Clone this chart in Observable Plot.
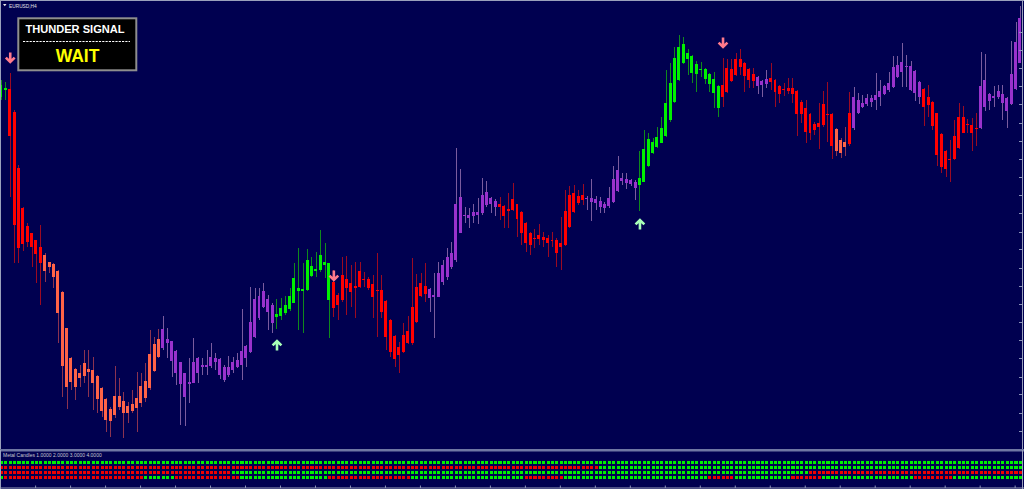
<!DOCTYPE html>
<html><head><meta charset="utf-8">
<script src="https://cdn.jsdelivr.net/npm/d3@7"></script>
<script src="https://cdn.jsdelivr.net/npm/@observablehq/plot@0.6"></script>
<style>
html,body{margin:0;padding:0;background:#000050;}
#wrap{position:relative;width:1024px;height:489px;overflow:hidden;background:#000050;}
#main{position:absolute;left:0;top:0;width:1024px;height:450px;}
#sub{position:absolute;left:0;top:450px;width:1024px;height:39px;}
svg{display:block;}
</style></head><body>
<div id="wrap"><div id="main"></div><div id="sub"></div></div>
<script>
// ---- EURUSD H4 candles (price levels) ----
const high = [
1.0920,1.0918,1.0927,1.0890,1.0835,1.0793,1.0777,1.0767,1.0760,1.0775,
1.0747,1.0738,1.0737,1.0730,1.0709,1.0672,1.0643,1.0632,1.0635,1.0650,
1.0650,1.0643,1.0625,1.0613,1.0602,1.0593,1.0634,1.0622,1.0608,1.0598,
1.0610,1.0628,1.0627,1.0637,1.0670,1.0663,1.0671,1.0684,1.0672,1.0659,
1.0650,1.0638,1.0627,1.0642,1.0662,1.0643,1.0642,1.0650,1.0657,1.0647,
1.0642,1.0635,1.0644,1.0643,1.0647,1.0691,1.0655,1.0713,1.0712,1.0712,
1.0717,1.0705,1.0697,1.0701,1.0702,1.0704,1.0712,1.0737,1.0752,1.0737,
1.0751,1.0743,1.0748,1.0770,1.0757,1.0737,1.0730,1.0707,1.0743,1.0744,
1.0735,1.0738,1.0738,1.0728,1.0723,1.0725,1.0747,1.0725,1.0700,1.0681,
1.0665,1.0658,1.0677,1.0684,1.0742,1.0726,1.0727,1.0737,1.0712,1.0727,
1.0738,1.0740,1.0752,1.0758,1.0852,1.0831,1.0793,1.0792,1.0796,1.0802,
1.0822,1.0819,1.0803,1.0801,1.0803,1.0795,1.0807,1.0817,1.0796,1.0789,
1.0778,1.0768,1.0771,1.0776,1.0768,1.0765,1.0768,1.0762,1.0783,1.0810,
1.0814,1.0815,1.0810,1.0816,1.0804,1.0821,1.0804,1.0803,1.0798,1.0813,
1.0834,1.0844,1.0827,1.0827,1.0821,1.0820,1.0849,1.0870,1.0867,1.0862,
1.0873,1.0883,1.0930,1.0937,1.0953,1.0965,1.0963,1.0951,1.0945,1.0939,
1.0938,1.0932,1.0927,1.0928,1.0915,1.0942,1.0941,1.0941,1.0947,1.0951,
1.0938,1.0932,1.0932,1.0924,1.0920,1.0930,1.0937,1.0921,1.0915,1.0917,
1.0922,1.0922,1.0910,1.0900,1.0900,1.0887,1.0878,1.0897,1.0909,1.0918,
1.0887,1.0872,1.0862,1.0873,1.0908,1.0913,1.0907,1.0905,1.0906,1.0905,
1.0927,1.0920,1.0915,1.0928,1.0944,1.0944,1.0957,1.0945,1.0939,1.0930,
1.0919,1.0912,1.0915,1.0899,1.0887,1.0867,1.0850,1.0860,1.0880,1.0897,
1.0894,1.0881,1.0882,1.0887,1.0948,1.0946,1.0907,1.0914,1.0915,1.0915,
1.0903,1.0959,1.0978,1.0994];
const low = [
1.0900,1.0900,1.0803,1.0737,1.0737,1.0749,1.0753,1.0733,1.0717,1.0695,
1.0718,1.0727,1.0712,1.0657,1.0603,1.0591,1.0610,1.0600,1.0613,1.0617,
1.0603,1.0590,1.0587,1.0583,1.0568,1.0563,1.0582,1.0590,1.0562,1.0577,
1.0587,1.0568,1.0593,1.0598,1.0610,1.0628,1.0642,1.0650,1.0642,1.0623,
1.0615,1.0575,1.0574,1.0597,1.0617,1.0617,1.0625,1.0625,1.0632,1.0630,
1.0621,1.0618,1.0623,1.0627,1.0632,1.0620,1.0633,1.0647,1.0662,1.0680,
1.0692,1.0670,1.0667,1.0671,1.0680,1.0685,1.0689,1.0697,1.0670,1.0667,
1.0709,1.0723,1.0723,1.0728,1.0722,1.0662,1.0683,1.0680,1.0698,1.0685,
1.0693,1.0682,1.0712,1.0713,1.0710,1.0682,1.0663,1.0682,1.0650,1.0643,
1.0633,1.0627,1.0647,1.0656,1.0655,1.0677,1.0703,1.0698,1.0688,1.0662,
1.0703,1.0715,1.0720,1.0731,1.0738,1.0767,1.0777,1.0772,1.0777,1.0776,
1.0785,1.0793,1.0787,1.0784,1.0780,1.0772,1.0772,1.0789,1.0763,1.0755,
1.0748,1.0745,1.0752,1.0755,1.0753,1.0743,1.0753,1.0733,1.0730,1.0754,
1.0772,1.0787,1.0795,1.0795,1.0790,1.0779,1.0790,1.0787,1.0787,1.0792,
1.0797,1.0808,1.0815,1.0811,1.0814,1.0800,1.0789,1.0818,1.0833,1.0846,
1.0852,1.0857,1.0863,1.0878,1.0897,1.0919,1.0936,1.0925,1.0917,1.0908,
1.0923,1.0916,1.0908,1.0892,1.0883,1.0893,1.0907,1.0918,1.0924,1.0925,
1.0908,1.0912,1.0912,1.0906,1.0903,1.0912,1.0910,1.0893,1.0897,1.0904,
1.0906,1.0897,1.0864,1.0877,1.0857,1.0860,1.0865,1.0851,1.0873,1.0858,
1.0841,1.0844,1.0842,1.0844,1.0854,1.0870,1.0886,1.0892,1.0894,1.0893,
1.0890,1.0894,1.0905,1.0908,1.0912,1.0922,1.0913,1.0913,1.0909,1.0899,
1.0896,1.0874,1.0883,1.0870,1.0834,1.0827,1.0823,1.0818,1.0840,1.0851,
1.0867,1.0867,1.0849,1.0854,1.0871,1.0889,1.0890,1.0893,1.0901,1.0880,
1.0872,1.0895,1.0910,1.0937];
// upper and lower edge of each candle body
const bodyHigh = [
1.0915,1.0912,1.0911,1.0888,1.0832,1.0792,1.0774,1.0767,1.0760,1.0753,
1.0745,1.0738,1.0736,1.0729,1.0708,1.0672,1.0642,1.0631,1.0627,1.0637,
1.0631,1.0630,1.0624,1.0612,1.0601,1.0591,1.0604,1.0604,1.0599,1.0594,
1.0596,1.0602,1.0614,1.0619,1.0646,1.0656,1.0661,1.0671,1.0661,1.0659,
1.0649,1.0638,1.0627,1.0618,1.0638,1.0642,1.0635,1.0635,1.0643,1.0642,
1.0641,1.0633,1.0633,1.0638,1.0640,1.0649,1.0654,1.0678,1.0701,1.0704,
1.0709,1.0701,1.0695,1.0686,1.0692,1.0695,1.0704,1.0722,1.0712,1.0711,
1.0740,1.0734,1.0731,1.0745,1.0738,1.0737,1.0718,1.0705,1.0725,1.0721,
1.0717,1.0714,1.0729,1.0721,1.0721,1.0716,1.0710,1.0710,1.0699,1.0680,
1.0664,1.0653,1.0665,1.0669,1.0693,1.0713,1.0717,1.0714,1.0711,1.0705,
1.0727,1.0735,1.0743,1.0747,1.0796,1.0803,1.0785,1.0785,1.0788,1.0788,
1.0805,1.0808,1.0802,1.0799,1.0796,1.0794,1.0791,1.0801,1.0796,1.0788,
1.0777,1.0767,1.0762,1.0765,1.0763,1.0762,1.0760,1.0760,1.0757,1.0789,
1.0805,1.0807,1.0804,1.0805,1.0802,1.0802,1.0801,1.0799,1.0796,1.0802,
1.0821,1.0830,1.0822,1.0821,1.0820,1.0818,1.0822,1.0851,1.0861,1.0858,
1.0863,1.0872,1.0897,1.0917,1.0942,1.0953,1.0956,1.0947,1.0944,1.0936,
1.0931,1.0931,1.0926,1.0921,1.0914,1.0915,1.0932,1.0931,1.0941,1.0941,
1.0937,1.0931,1.0926,1.0923,1.0919,1.0921,1.0922,1.0920,1.0914,1.0911,
1.0912,1.0912,1.0909,1.0898,1.0892,1.0886,1.0876,1.0877,1.0896,1.0886,
1.0886,1.0871,1.0860,1.0858,1.0887,1.0903,1.0900,1.0897,1.0902,1.0902,
1.0905,1.0909,1.0914,1.0917,1.0933,1.0935,1.0938,1.0934,1.0934,1.0929,
1.0918,1.0911,1.0903,1.0898,1.0887,1.0866,1.0849,1.0841,1.0864,1.0883,
1.0883,1.0876,1.0875,1.0872,1.0914,1.0920,1.0906,1.0904,1.0909,1.0906,
1.0902,1.0926,1.0958,1.0982];
const bodyLow = [
1.0903,1.0910,1.0864,1.0775,1.0752,1.0756,1.0758,1.0753,1.0746,1.0737,
1.0729,1.0733,1.0723,1.0687,1.0634,1.0613,1.0618,1.0613,1.0622,1.0624,
1.0628,1.0617,1.0601,1.0589,1.0580,1.0579,1.0585,1.0593,1.0587,1.0587,
1.0589,1.0592,1.0597,1.0602,1.0612,1.0629,1.0643,1.0652,1.0657,1.0639,
1.0627,1.0616,1.0603,1.0616,1.0617,1.0627,1.0633,1.0633,1.0634,1.0638,
1.0625,1.0620,1.0625,1.0630,1.0633,1.0635,1.0642,1.0648,1.0663,1.0682,
1.0693,1.0688,1.0677,1.0683,1.0684,1.0687,1.0691,1.0697,1.0709,1.0709,
1.0710,1.0724,1.0729,1.0730,1.0735,1.0700,1.0692,1.0695,1.0700,1.0712,
1.0708,1.0712,1.0713,1.0720,1.0712,1.0703,1.0709,1.0688,1.0663,1.0648,
1.0641,1.0645,1.0648,1.0657,1.0657,1.0678,1.0704,1.0706,1.0702,1.0703,
1.0703,1.0718,1.0723,1.0733,1.0740,1.0767,1.0784,1.0782,1.0784,1.0785,
1.0787,1.0795,1.0796,1.0793,1.0793,1.0784,1.0789,1.0790,1.0781,1.0767,
1.0757,1.0755,1.0761,1.0761,1.0760,1.0757,1.0759,1.0747,1.0753,1.0755,
1.0773,1.0788,1.0797,1.0800,1.0801,1.0798,1.0797,1.0793,1.0792,1.0794,
1.0798,1.0809,1.0819,1.0817,1.0816,1.0812,1.0815,1.0818,1.0834,1.0847,
1.0853,1.0857,1.0864,1.0880,1.0898,1.0920,1.0937,1.0941,1.0927,1.0926,
1.0930,1.0921,1.0916,1.0907,1.0892,1.0903,1.0908,1.0919,1.0925,1.0933,
1.0924,1.0920,1.0919,1.0914,1.0915,1.0916,1.0918,1.0908,1.0906,1.0910,
1.0909,1.0906,1.0886,1.0886,1.0868,1.0867,1.0870,1.0873,1.0875,1.0885,
1.0854,1.0849,1.0847,1.0853,1.0856,1.0872,1.0887,1.0893,1.0896,1.0898,
1.0900,1.0903,1.0906,1.0910,1.0913,1.0923,1.0928,1.0933,1.0910,1.0907,
1.0903,1.0893,1.0895,1.0874,1.0845,1.0833,1.0831,1.0840,1.0841,1.0852,
1.0867,1.0875,1.0867,1.0871,1.0872,1.0893,1.0899,1.0902,1.0903,1.0897,
1.0889,1.0896,1.0911,1.0937];
// candle colour state (G green, R red, P purple, S salmon), as runs [state, count]
const candleStateRuns = [["G",2],["R",8],["S",27],["P",26],["G",13],["R",22],["P",16],["R",20],["P",12],["G",19],["R",8],["P",3],["R",15],["S",3],["R",1],["P",16],["R",13],["P",10]];
// signal arrows: [bar, price]
const downArrows = [[2,1.0943],[76,1.0725],[165,1.0958]];
const upArrows = [[63,1.0655],[146,1.0776]];
// "Metal Candles" sub-window: 4 rows of states, as runs
const metalRows = [
  [["G",234]],
  [["R",137],["G",97]],
  [["R",53],["G",132],["R",49]],
  [["G",1],["R",32],["G",7],["R",15],["G",20],["R",19],["G",26],["R",9],["G",33],["R",6],["G",13],["R",7],["G",21],["R",9],["G",16]]
];
const rowNames = ["1","2","3","4"];
// unlabeled scale ticks
const priceTicks = [1.0968,1.0950,1.0932,1.0914,1.0896,1.0877,1.0859,1.0841,1.0823,1.0805,1.0787,1.0768,1.0751,1.0732,1.0714,1.0696,1.0678,1.0660,1.0642,1.0623,1.0606,1.0587,1.0569];
const timeTicks = [7.8,15.8,23.8,31.8,39.8,47.8,55.8,63.8,71.8,79.8,87.8,95.8,103.8,111.8,119.8,127.8,135.8,143.8,151.8,159.8,167.8,175.8,183.8,191.8,199.8,207.8,215.8,223.8,231.8];

const symbolText = "EURUSD,H4";
const signalTitle = "THUNDER SIGNAL";
const signalValue = "WAIT";
const subLabel = "Metal Candles 1.0000 2.0000 3.0000 4.0000";

// ---- build ----
const expand = runs => runs.flatMap(([s, n]) => Array(n).fill(s));
const states = expand(candleStateRuns);
const candles = high.map((h, i) => ({i, high: h, low: low[i], top: bodyHigh[i], bottom: bodyLow[i], k: states[i]}));
const bodyColor = {G: "#00f000", R: "#ff0000", P: "#9932cc", S: "#ff6347"};
const wickColor = {G: "#0f8a1c", R: "#9c0a22", P: "#7a5c9e", S: "#8c3350"};
const BG = "#000050";
const xDomain = [-0.229, 233.94];
const FONT = "Liberation Sans, Arial, sans-serif";

// thick arrow glyph (shaft + chevron head), drawn by Plot.vector
const thickArrow = {
  draw(context, l) {
    const w = 4.4;
    context.moveTo(0, 0);
    context.lineTo(0, -l + 1);
    context.moveTo(-w, -l + w + 0.5);
    context.lineTo(0, -l + 0.5);
    context.lineTo(w, -l + w + 0.5);
  }
};

const main = Plot.plot({
  width: 1024, height: 450, margin: 0,
  x: {domain: xDomain, axis: null},
  y: {domain: [1.0550, 1.1000], axis: null},
  color: {type: "identity"},
  style: {background: BG, overflow: "hidden"},
  marks: [
    Plot.ruleX(candles, {x: "i", y1: "low", y2: "high", stroke: d => wickColor[d.k], strokeWidth: 1, shapeRendering: "crispEdges"}),
    Plot.rect(candles, {x1: d => d.i - 0.34, x2: d => d.i + 0.34, y1: "bottom", y2: "top", fill: d => bodyColor[d.k], shapeRendering: "crispEdges"}),
    Plot.ruleY(priceTicks, {y: d => d, insetLeft: 1019, insetRight: 2, stroke: "#8a92b8"}),
    Plot.vector(downArrows, {x: d => d[0], y: d => d[1], rotate: 180, length: 10, shape: thickArrow, anchor: "middle", stroke: "#ff7a8c", strokeWidth: 2.6, strokeLinecap: "butt", strokeLinejoin: "miter"}),
    Plot.vector(upArrows, {x: d => d[0], y: d => d[1], rotate: 0, length: 10, shape: thickArrow, anchor: "middle", stroke: "#a8ffb8", strokeWidth: 2.6, strokeLinecap: "butt", strokeLinejoin: "miter"})
  ]
});
document.getElementById("main").appendChild(main);

const svg = d3.select(main);
const chrome = svg.append("g").attr("text-anchor", "start");
const lineCol = "#9aa0bc";
chrome.append("rect").attr("x", 0).attr("y", 0).attr("width", 1024).attr("height", 1).attr("fill", lineCol);
chrome.append("rect").attr("x", 0).attr("y", 0).attr("width", 1).attr("height", 450).attr("fill", lineCol);
chrome.append("rect").attr("x", 1022).attr("y", 0).attr("width", 1).attr("height", 450).attr("fill", lineCol);
chrome.append("rect").attr("x", 0).attr("y", 449).attr("width", 1024).attr("height", 1).attr("fill", "#6f77a3");
// symbol label
chrome.append("path").attr("d", "M3,4 L6.5,4 L4.75,6.3 Z").attr("fill", "#e8e8e8");
chrome.append("text").attr("x", 9).attr("y", 7.6).attr("fill", "#e0e0e8").attr("text-anchor", "start")
  .attr("font-family", FONT).attr("font-size", 4.8).text(symbolText);
// signal box
const box = svg.append("g").attr("font-family", FONT).attr("font-weight", "bold");
box.append("rect").attr("x", 18.3).attr("y", 18.3).attr("width", 118).attr("height", 52)
  .attr("fill", "#000000").attr("stroke", "#8e8e8e").attr("stroke-width", 2);
box.append("text").attr("x", 75).attr("y", 33.2).attr("text-anchor", "middle").attr("fill", "#ffffff")
  .attr("font-size", 11.1).text(signalTitle);
box.append("line").attr("x1", 23).attr("x2", 130).attr("y1", 41.5).attr("y2", 41.5)
  .attr("stroke", "#ffffff").attr("stroke-width", 1.2).attr("stroke-dasharray", "2.2,1.1");
box.append("text").attr("x", 77.5).attr("y", 62).attr("text-anchor", "middle").attr("fill", "#ffff00")
  .attr("font-size", 17.5).text(signalValue);

// ---- sub-window ----
const dots = metalRows.flatMap((runs, r) => expand(runs).map((s, i) => ({i, row: rowNames[r], s})));
const sub = Plot.plot({
  width: 1024, height: 39, margin: 0,
  x: {domain: xDomain, axis: null},
  y: {type: "point", domain: rowNames, range: [8.5, 30.5], axis: null},
  color: {type: "identity"},
  style: {background: BG, overflow: "hidden"},
  marks: [
    Plot.dot(dots, {x: "i", y: "row", symbol: "square", r: 1.72, fill: d => d.s === "G" ? "#00ee00" : "#ee0000", shapeRendering: "crispEdges"}),
    Plot.ruleX(timeTicks, {x: d => d, insetTop: 35.5, insetBottom: 1, stroke: "#8a92b8"})
  ]
});
document.getElementById("sub").appendChild(sub);
const s2 = d3.select(sub).append("g").attr("text-anchor", "start");
s2.append("rect").attr("x", 0).attr("y", 0).attr("width", 1024).attr("height", 1.5).attr("fill", "#6f77a3");
s2.append("rect").attr("x", 0).attr("y", 0).attr("width", 1).attr("height", 39).attr("fill", lineCol);
s2.append("rect").attr("x", 1022).attr("y", 0).attr("width", 1).attr("height", 39).attr("fill", lineCol);
s2.append("rect").attr("x", 0).attr("y", 37.5).attr("width", 1024).attr("height", 1).attr("fill", lineCol);
s2.append("text").attr("x", 3).attr("y", 7.2).attr("fill", "#c8c8d0").attr("text-anchor", "start")
  .attr("font-family", FONT).attr("font-size", 5).text(subLabel);
</script>
</body></html>
